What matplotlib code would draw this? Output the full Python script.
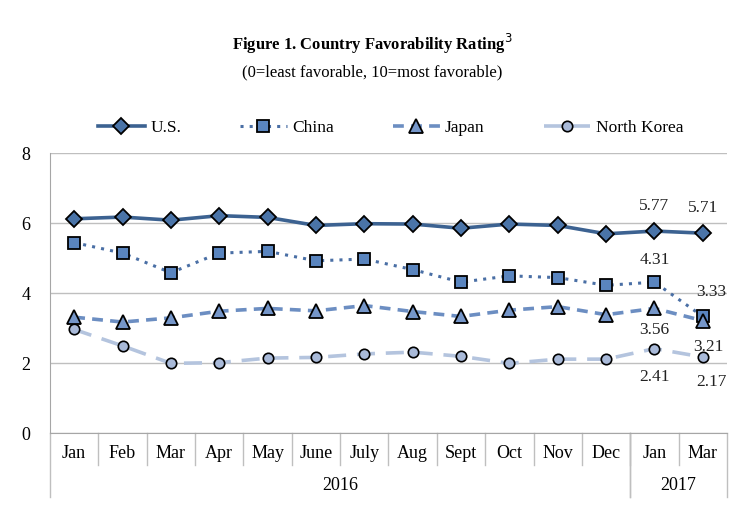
import matplotlib.pyplot as plt
from matplotlib.lines import Line2D
import numpy as np

months = ["Jan", "Feb", "Mar", "Apr", "May", "June", "July", "Aug", "Sept", "Oct", "Nov", "Dec", "Jan", "Mar"]
years = ["2016", "2017"]
year_span = [(0, 12), (12, 14)]  # start/end index of each year group

us = [6.12, 6.17, 6.08, 6.21, 6.16, 5.93, 5.98, 5.97, 5.85, 5.97, 5.93, 5.69, 5.77, 5.71]
china = [5.44, 5.14, 4.58, 5.14, 5.19, 4.92, 4.97, 4.67, 4.31, 4.49, 4.44, 4.22, 4.31, 3.33]
japan = [3.31, 3.17, 3.29, 3.48, 3.56, 3.49, 3.64, 3.47, 3.33, 3.51, 3.61, 3.38, 3.56, 3.21]
nkorea = [2.96, 2.49, 1.99, 2.01, 2.14, 2.16, 2.26, 2.31, 2.19, 1.99, 2.11, 2.11, 2.41, 2.17]

serif = "Liberation Serif"
plt.rcParams['font.family'] = [serif, 'DejaVu Serif']

fig = plt.figure(figsize=(7.44, 5.30), dpi=100)
ax = fig.add_axes([50/744, 1 - 433/530, 677/744, 280/530])

x = np.arange(len(months))

# series
ax.plot(x, us, color="#3c6291", lw=2.6, ls="-", marker="D", ms=8.5,
        mfc="#4a74a8", mec="black", mew=1.3, label="U.S.", zorder=5)
ax.plot(x, china, color="#4a6fa5", lw=2.2, ls=(0, (1, 2)), marker="s", ms=8,
        mfc="#5a85bf", mec="black", mew=1.3, label="China", zorder=4)
ax.plot(x, japan, color="#6c8ec2", lw=2.6, ls=(0, (3, 2)), marker="^", ms=10.5,
        mfc="#7596c9", mec="black", mew=1.3, label="Japan", zorder=4)
ax.plot(x, nkorea, color="#b4c4de", lw=2.6, ls=(0, (5, 3)), marker="o", ms=7.5,
        mfc="#a9bad9", mec="black", mew=1.2, label="North Korea", zorder=3)

# value labels on last two points
ann = dict(fontsize=12.5, ha="center", color="#222222")
ax.annotate(f"{us[12]:.2f}", (12, us[12]), xytext=(0, 12), textcoords="offset points", va="bottom", **ann)
ax.annotate(f"{us[13]:.2f}", (13, us[13]), xytext=(0, 12), textcoords="offset points", va="bottom", **ann)
ax.annotate(f"{china[12]:.2f}", (12, china[12]), xytext=(0, 10), textcoords="offset points", va="bottom", **ann)
ax.annotate(f"{china[13]:.2f}", (13, china[13]), xytext=(6, 12), textcoords="offset points", va="bottom", **ann)
ax.annotate(f"{japan[12]:.2f}", (12, japan[12]), xytext=(0, -10), textcoords="offset points", va="top", **ann)
ax.annotate(f"{japan[13]:.2f}", (13, japan[13]), xytext=(4, -13), textcoords="offset points", va="top", **ann)
ax.annotate(f"{nkorea[12]:.2f}", (12, nkorea[12]), xytext=(0, -15), textcoords="offset points", va="top", **ann)
ax.annotate(f"{nkorea[13]:.2f}", (13, nkorea[13]), xytext=(6, -12), textcoords="offset points", va="top", **ann)

ax.set_xlim(-0.5, len(months) - 0.5)
ax.set_ylim(0, 8)
ax.set_yticks([0, 2, 4, 6, 8])
ax.tick_params(axis="y", length=0, labelsize=13, pad=14)
ax.set_xticks([])
ax.grid(axis="y", color="#bfbfbf", lw=1)
ax.set_axisbelow(True)
for s in ["top", "right"]:
    ax.spines[s].set_visible(False)
ax.spines["left"].set_color("#a6a6a6")
ax.spines["bottom"].set_color("#a6a6a6")

# category axis with month and year groups
trans = ax.get_xaxis_transform()
month_h = -32 / 280
year_h = -64 / 280
for i, m in enumerate(months):
    ax.text(i, -20 / 280, m, transform=trans, ha="center", va="center", fontsize=13)
for i in range(1, len(months)):
    ax.add_line(Line2D([i - 0.5, i - 0.5], [0, month_h], transform=trans,
                       color="#bfbfbf", lw=1, clip_on=False))
for (a, b), yr in zip(year_span, years):
    ax.text((a + b - 1) / 2, -52 / 280, yr, transform=trans, ha="center", va="center", fontsize=13)
    for e in (a, b):
        ax.add_line(Line2D([e - 0.5, e - 0.5], [0, year_h], transform=trans,
                           color="#bfbfbf", lw=1, clip_on=False))

fig.legend(loc="center", bbox_to_anchor=(0.525, 1 - 128/530), ncol=4, frameon=False,
           fontsize=12.5, handlelength=2.7, columnspacing=3.4, handletextpad=0.3)

fig.text(0.5, 1 - 44/530, "Figure 1. Country Favorability Rating$^3$", ha="center", va="center",
         fontsize=12, fontweight="bold")
fig.text(0.5, 1 - 72/530, "(0=least favorable, 10=most favorable)", ha="center", va="center",
         fontsize=12)

fig.savefig("out.png", dpi=100)
